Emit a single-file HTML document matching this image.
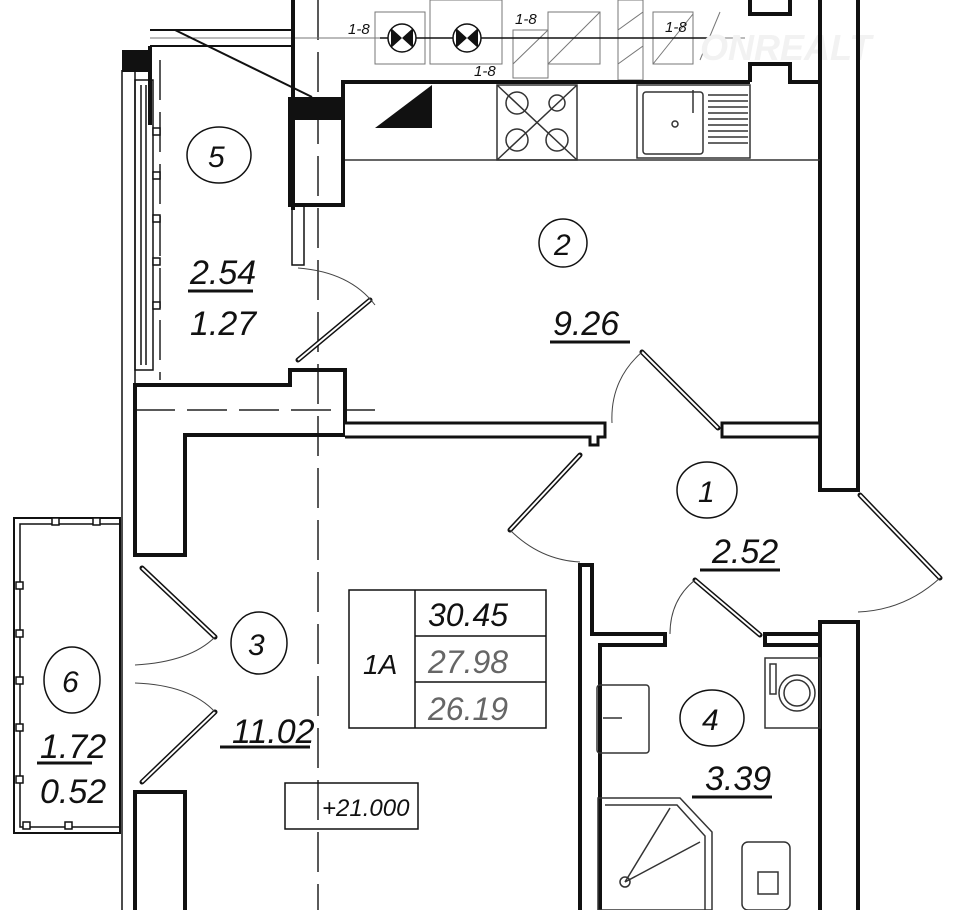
<!DOCTYPE html>
<html><head><meta charset="utf-8"><style>
html,body{margin:0;padding:0;background:#fff;}
svg{display:block}
text{font-family:"Liberation Sans",sans-serif;font-style:italic;fill:#111}
</style></head><body>
<svg width="956" height="910" viewBox="0 0 956 910" xmlns="http://www.w3.org/2000/svg">
<rect width="956" height="910" fill="#fff"/>
<g stroke="#222" stroke-width="1.5" stroke-dasharray="40,12" fill="none">
<line x1="318" y1="0" x2="318" y2="910"/>
<line x1="160" y1="60" x2="160" y2="380"/>
<line x1="135" y1="410" x2="375" y2="410"/>
</g>
<g stroke="#777" stroke-width="1" fill="none">
<rect x="375" y="12" width="50" height="52"/><rect x="430" y="0" width="72" height="64"/>
<rect x="513" y="30" width="35" height="48"/><rect x="548" y="12" width="52" height="52"/>
<rect x="618" y="0" width="25" height="80"/><rect x="653" y="12" width="40" height="52"/>
<line x1="513" y1="64" x2="548" y2="30"/><line x1="548" y1="64" x2="600" y2="12"/>
<line x1="618" y1="30" x2="643" y2="12"/><line x1="618" y1="64" x2="643" y2="46"/>
<line x1="653" y1="64" x2="693" y2="14"/><line x1="700" y1="60" x2="720" y2="12"/>
<line x1="150" y1="38" x2="745" y2="38"/>
</g>
<line x1="150" y1="30" x2="292" y2="30" stroke="#111" stroke-width="2"/>
<line x1="150" y1="46" x2="292" y2="46" stroke="#111" stroke-width="2"/>
<line x1="175" y1="30" x2="312" y2="97" stroke="#111" stroke-width="2"/>
<line x1="380" y1="38" x2="710" y2="38" stroke="#111" stroke-width="1.5"/>
<g stroke="#111" stroke-width="1.5"><circle cx="402" cy="38" r="14" fill="#fff"/><circle cx="467" cy="38" r="14" fill="#fff"/></g>
<path d="M391 28 L413 48 L413 28 L391 48Z" fill="#111"/>
<path d="M456 28 L478 48 L478 28 L456 48Z" fill="#111"/>
<text x="348" y="34" font-size="15">1-8</text><text x="515" y="24" font-size="15">1-8</text>
<text x="665" y="32" font-size="15">1-8</text><text x="474" y="76" font-size="15">1-8</text>
<text x="700" y="60" font-size="36" font-style="normal" font-weight="bold" style="fill:#f2f2f2">ONREALT</text>
<g stroke="#111" stroke-width="4" fill="none">
<line x1="293" y1="0" x2="293" y2="210"/>
<path d="M343 205 L343 82 L750 82"/>
<path d="M750 0 L750 14 L790 14 L790 0"/>
<path d="M750 82 L750 64 L790 64 L790 82 L820 82"/>
<path d="M820 0 L820 490 L858 490 L858 0"/>
<rect x="290" y="118" width="53" height="87"/>
<path d="M135 385 L290 385 L290 370 L345 370 L345 435 L185 435 L185 555 L135 555 Z"/>
<path d="M135 910 L135 792 L185 792 L185 910"/>
<path d="M580 910 L580 565 L592 565 L592 634 L665 634 L665 645 L600 645 L600 910"/>
<path d="M765 634 L820 634 L820 645 L765 645 Z" />
<path d="M820 910 L820 622 L858 622 L858 910"/>
<path d="M150 125 L150 46"/>
</g>
<rect x="288" y="97" width="55" height="22" fill="#111"/>
<rect x="122" y="50" width="28" height="22" fill="#111"/>
<g stroke="#111" stroke-width="3" fill="#fff">
<path d="M345 423 L605 423 L605 437 L598 437 L598 445 L590 445 L590 437 L345 437"/>
<rect x="722" y="423" width="98" height="14"/>
</g>
<g stroke="#111" stroke-width="1.5" fill="none">
<line x1="122" y1="70" x2="122" y2="910"/><line x1="135" y1="70" x2="135" y2="385"/>
<rect x="135" y="80" width="18" height="290"/>
<line x1="141" y1="85" x2="141" y2="365"/><line x1="146" y1="85" x2="146" y2="365"/>
<rect x="292" y="205" width="12" height="60"/>
</g>
<g fill="#fff" stroke="#111" stroke-width="1.5">
<rect x="153" y="128" width="7" height="7"/><rect x="153" y="172" width="7" height="7"/><rect x="153" y="215" width="7" height="7"/><rect x="153" y="258" width="7" height="7"/><rect x="153" y="302" width="7" height="7"/>
</g>
<g stroke="#333" stroke-width="1.5" fill="none">
<line x1="345" y1="160" x2="820" y2="160"/>
<rect x="497" y="85" width="80" height="75"/>
<circle cx="517" cy="103" r="11"/><circle cx="557" cy="103" r="8"/><circle cx="517" cy="140" r="11"/><circle cx="557" cy="140" r="11"/>
<path d="M497 85 L577 160 M577 85 L497 160"/>
<rect x="637" y="85" width="113" height="73"/>
<rect x="643" y="92" width="60" height="62" rx="3"/>
<circle cx="675" cy="124" r="3"/>
<line x1="693" y1="90" x2="693" y2="113"/>
<path d="M708 95h40M708 101h40M708 107h40M708 113h40M708 119h40M708 125h40M708 131h40M708 137h40M708 143h40"/>
</g>
<path d="M375 128 L432 85 L432 128 Z" fill="#111"/>
<g stroke="#111" stroke-width="5" stroke-linecap="round"><line x1="298" y1="360" x2="370" y2="300"/>
<line x1="642" y1="352" x2="718" y2="428"/><line x1="580" y1="455" x2="510" y2="530"/>
<line x1="695" y1="580" x2="760" y2="635"/><line x1="860" y1="495" x2="940" y2="578"/>
<line x1="142" y1="568" x2="215" y2="637"/><line x1="142" y1="782" x2="215" y2="712"/></g>
<g stroke="#fff" stroke-width="2"><line x1="298" y1="360" x2="370" y2="300"/>
<line x1="642" y1="352" x2="718" y2="428"/><line x1="580" y1="455" x2="510" y2="530"/>
<line x1="695" y1="580" x2="760" y2="635"/><line x1="860" y1="495" x2="940" y2="578"/>
<line x1="142" y1="568" x2="215" y2="637"/><line x1="142" y1="782" x2="215" y2="712"/></g>
<g stroke="#444" stroke-width="1" fill="none">
<path d="M298 268 Q350 272 375 305"/><path d="M642 352 Q610 380 612 423"/>
<path d="M510 530 Q540 560 580 562"/><path d="M695 580 Q670 600 670 634"/>
<path d="M940 578 Q905 610 858 612"/><path d="M215 637 Q190 662 135 665"/>
<path d="M215 712 Q190 685 135 683"/>
</g>
<g stroke="#111" stroke-width="2" fill="none">
<rect x="14" y="518" width="106" height="315"/><rect x="20" y="524" width="100" height="303" stroke-width="1.5"/>
</g>
<g fill="#fff" stroke="#111" stroke-width="1.5">
<rect x="52" y="518" width="7" height="7"/><rect x="93" y="518" width="7" height="7"/>
<rect x="16" y="582" width="7" height="7"/><rect x="16" y="630" width="7" height="7"/><rect x="16" y="677" width="7" height="7"/><rect x="16" y="724" width="7" height="7"/><rect x="16" y="776" width="7" height="7"/>
<rect x="23" y="822" width="7" height="7"/><rect x="65" y="822" width="7" height="7"/>
</g>
<g stroke="#333" stroke-width="1.5" fill="none">
<rect x="597" y="685" width="52" height="68" rx="3"/><line x1="603" y1="718" x2="622" y2="718"/>
<path d="M598 798 L680 798 L712 832 L712 910 L598 910Z"/><path d="M605 805 L677 805 L705 836 L705 910"/>
<path d="M625 882 L670 808 M625 882 L700 842"/><circle cx="625" cy="882" r="5"/>
<rect x="765" y="658" width="55" height="70"/><circle cx="797" cy="693" r="18"/><circle cx="797" cy="693" r="13"/>
<rect x="770" y="664" width="6" height="30"/>
<rect x="742" y="842" width="48" height="68" rx="6"/><rect x="758" y="872" width="20" height="22"/>
</g>
<g stroke="#111" stroke-width="1.5" fill="none">
<rect x="349" y="590" width="197" height="138"/><line x1="415" y1="590" x2="415" y2="728"/>
<line x1="415" y1="636" x2="546" y2="636"/><line x1="415" y1="682" x2="546" y2="682"/>
<rect x="285" y="783" width="133" height="46"/>
</g>
<text x="363" y="674" font-size="28">1A</text>
<text x="428" y="626" font-size="32">30.45</text>
<text x="428" y="673" font-size="32" style="fill:#666">27.98</text>
<text x="428" y="720" font-size="32" style="fill:#666">26.19</text>
<text x="322" y="816" font-size="24">+21.000</text>
<g stroke="#111" stroke-width="1.5" fill="none">
<ellipse cx="219" cy="155" rx="32" ry="28"/><ellipse cx="563" cy="243" rx="24" ry="24"/>
<ellipse cx="707" cy="490" rx="30" ry="28"/><ellipse cx="259" cy="643" rx="28" ry="31"/>
<ellipse cx="72" cy="680" rx="28" ry="33"/><ellipse cx="712" cy="718" rx="32" ry="28"/>
</g>
<g font-size="30">
<text x="208" y="167">5</text><text x="554" y="255">2</text><text x="698" y="502">1</text>
<text x="248" y="655">3</text><text x="62" y="692">6</text><text x="702" y="730">4</text>
</g>
<g font-size="34">
<text x="190" y="284">2.54</text><text x="190" y="335">1.27</text>
<text x="553" y="335">9.26</text><text x="712" y="563">2.52</text>
<text x="232" y="743">11.02</text><text x="40" y="758">1.72</text><text x="40" y="803">0.52</text>
<text x="705" y="790">3.39</text>
</g>
<g stroke="#111" stroke-width="3">
<line x1="188" y1="291" x2="253" y2="291"/><line x1="550" y1="342" x2="630" y2="342"/>
<line x1="700" y1="570" x2="780" y2="570"/><line x1="220" y1="747" x2="310" y2="747"/>
<line x1="37" y1="763" x2="92" y2="763"/><line x1="692" y1="797" x2="772" y2="797"/>
</g>
</svg>
</body></html>
